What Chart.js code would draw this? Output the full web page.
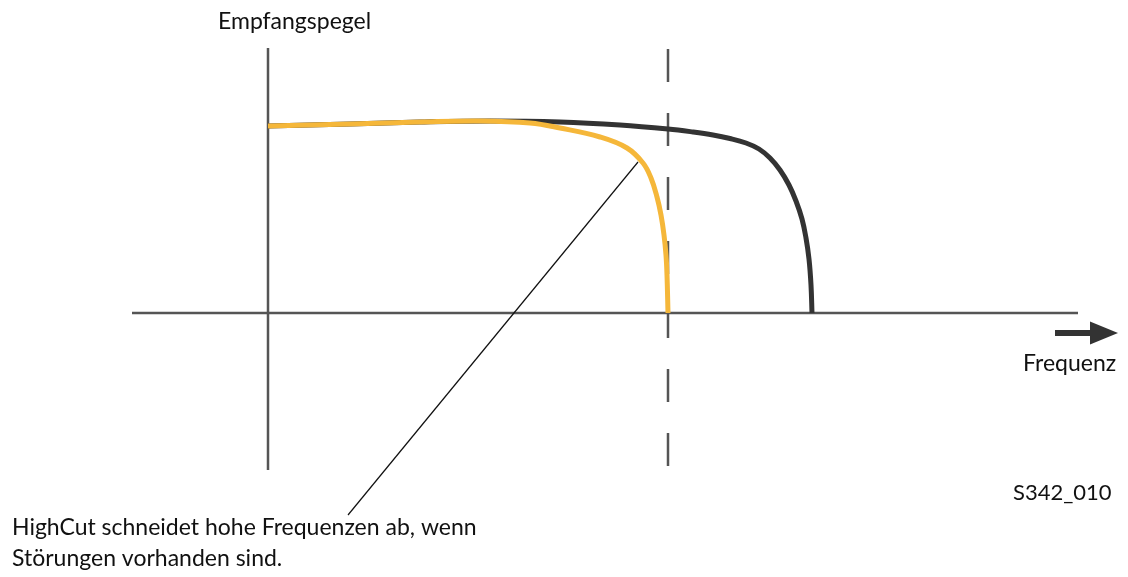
<!DOCTYPE html>
<html lang="de">
<head>
<meta charset="UTF-8">
<title>HighCut</title>
<style>
  html, body { margin: 0; padding: 0; background: #fff; }
  #wrap { width: 1128px; height: 577px; }
</style>
</head>
<body>
<div id="wrap"><canvas id="myChart" width="1128" height="577"></canvas></div>
<script src="https://cdn.jsdelivr.net/npm/chart.js"></script>
<script>
// curve data, frequency (x) vs. receive level (y), arbitrary units
const normalFreq  = [0, 0.82, 1.52, 2.22, 2.92, 3.52, 4.0, 4.25, 4.45, 4.62, 4.78, 4.91, 5.02, 5.12, 5.21, 5.28, 5.34, 5.38, 5.41, 5.43, 5.44];
const normalLevel = [1.87, 1.89, 1.91, 1.92, 1.91, 1.88, 1.84, 1.81, 1.78, 1.745, 1.70, 1.64, 1.55, 1.43, 1.28, 1.12, 0.94, 0.75, 0.54, 0.28, 0];

const highcutFreq  = [0, 0.82, 1.52, 2.12, 2.62, 2.92, 3.32, 3.59, 3.75, 3.83, 3.89, 3.93, 3.96, 3.98, 3.99, 4.0];
const highcutLevel = [1.87, 1.89, 1.91, 1.92, 1.90, 1.85, 1.76, 1.65, 1.50, 1.35, 1.16, 0.98, 0.78, 0.58, 0.38, 0];

// axes, cutoff marker, leader line and arrow shaft
const yAxisLine   = [[0, 2.65], [0, -1.57]];
const xAxisLine   = [[-1.36, 0], [8.10, 0]];
const cutoffLine  = [[4.0, 2.64], [4.0, -1.55]];
const leaderLine  = [[3.70, 1.51], [0.80, -2.02]];
const arrowLine   = [[7.87, -0.20], [8.24, -0.20]];

const labelTexts = {
  yTitle: "Empfangspegel",
  xTitle: "Frequenz",
  code: "S342_010",
  note1: "HighCut schneidet hohe Frequenzen ab, wenn",
  note2: "Störungen vorhanden sind."
};

const toPts = (xs, ys) => xs.map((x, i) => ({ x: x, y: ys[i] }));
const pairPts = (arr) => arr.map(p => ({ x: p[0], y: p[1] }));

const plain = (data, color, width, dash) => ({
  data: pairPts(data),
  borderColor: color,
  borderWidth: width,
  borderDash: dash || [],
  pointRadius: 0,
  tension: 0
});

const curve = (xs, ys, color) => ({
  data: toPts(xs, ys),
  borderColor: color,
  borderWidth: 5,
  pointRadius: 0,
  tension: 0.4,
  borderCapStyle: "butt"
});

// arrow head + texts
const decor = {
  id: "decor",
  afterDatasetsDraw(chart) {
    const ctx = chart.ctx;
    const sx = chart.scales.x, sy = chart.scales.y;
    const end = arrowLine[1];
    const tx = sx.getPixelForValue(end[0]);
    const ty = sy.getPixelForValue(end[1]);
    ctx.save();
    ctx.fillStyle = "#333";
    ctx.beginPath();
    ctx.moveTo(tx + 26, ty);
    ctx.lineTo(tx - 2, ty - 11.5);
    ctx.lineTo(tx - 2, ty + 11.5);
    ctx.closePath();
    ctx.fill();

    ctx.fillStyle = "#111";
    ctx.textBaseline = "alphabetic";
    ctx.font = "23px Lato";
    ctx.fillText(labelTexts.yTitle, 218, 29);
    ctx.fillText(labelTexts.xTitle, 1023, 371);
    ctx.font = "22px Lato";
    ctx.fillText(labelTexts.code, 1013, 500);
    ctx.font = "23px Lato";
    ctx.fillText(labelTexts.note1, 12, 535);
    ctx.fillText(labelTexts.note2, 12, 566);
    ctx.restore();
  }
};

new Chart(document.getElementById("myChart"), {
  type: "line",
  data: {
    datasets: [
      plain(leaderLine, "#111", 1.2),
      plain(arrowLine, "#333", 6),
      curve(highcutFreq, highcutLevel, "#f5b73a"),
      curve(normalFreq, normalLevel, "#333"),
      plain(cutoffLine, "#555", 2.5, [33, 31]),
      plain(xAxisLine, "#555", 2.5),
      plain(yAxisLine, "#555", 2.5)
    ]
  },
  options: {
    responsive: false,
    animation: false,
    layout: { padding: 0 },
    plugins: { legend: { display: false }, tooltip: { enabled: false } },
    scales: {
      x: { type: "linear", display: false, min: -2.68, max: 8.60 },
      y: { type: "linear", display: false, min: -2.64, max: 3.13 }
    }
  },
  plugins: [decor]
});
</script>
</body>
</html>
